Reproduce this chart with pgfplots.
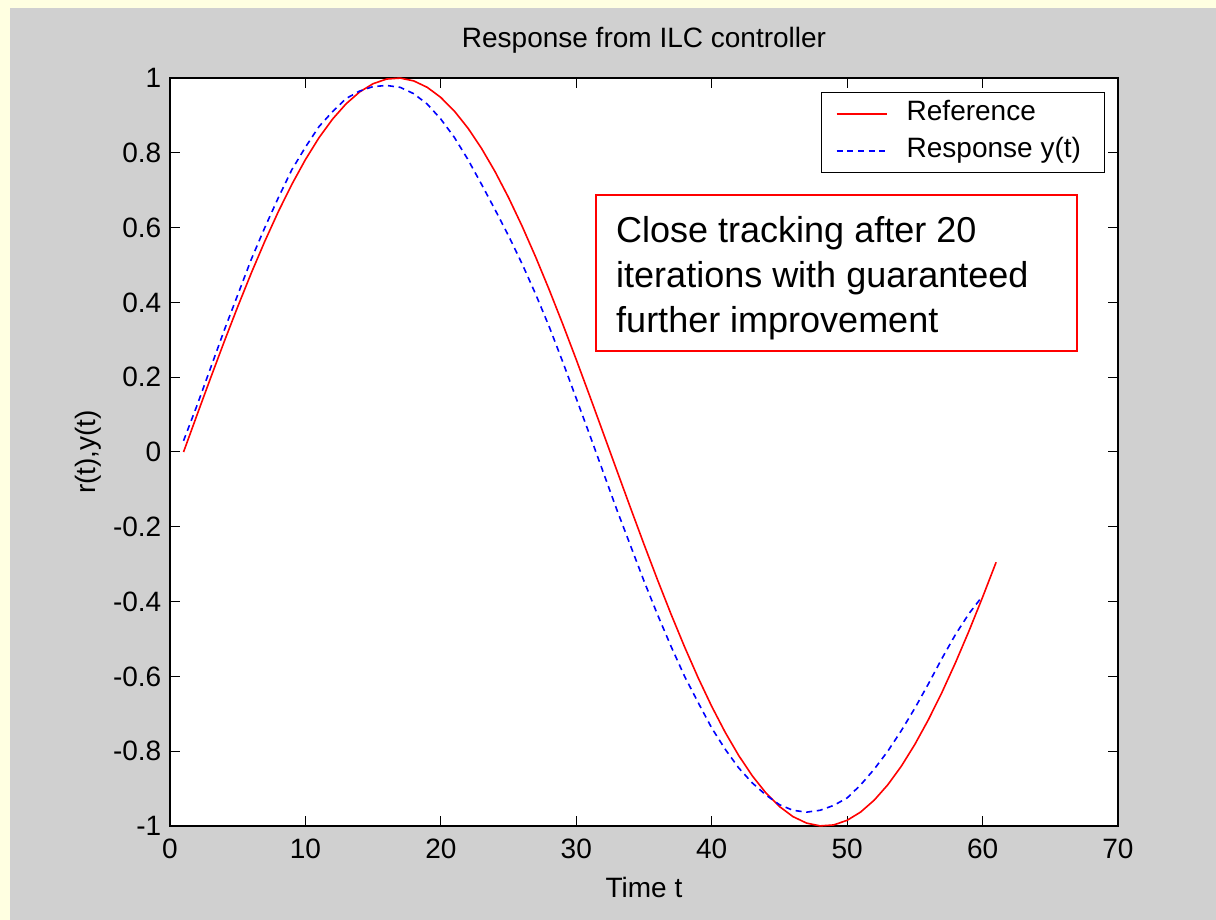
\documentclass[border=0pt]{standalone}
\usepackage{fontspec}
\setmainfont{Liberation Sans}
\usepackage{pgfplots}
\pgfplotsset{compat=1.18}
\definecolor{figgray}{RGB}{208,208,208}
\definecolor{pageyellow}{RGB}{255,255,225}

% reference signal r(t), t = 1..61
\pgfplotstableread{
t r
1 0.0000
2 0.0996
3 0.1981
4 0.2948
5 0.3884
6 0.4783
7 0.5633
8 0.6428
9 0.7158
10 0.7818
11 0.8402
12 0.8899
13 0.9309
14 0.9626
15 0.9848
16 0.9972
17 0.9997
18 0.9922
19 0.9749
20 0.9479
21 0.9115
22 0.8660
23 0.8119
24 0.7498
25 0.6802
26 0.6038
27 0.5214
28 0.4339
29 0.3420
30 0.2468
31 0.1490
32 0.0498
33 -0.0498
34 -0.1490
35 -0.2468
36 -0.3420
37 -0.4339
38 -0.5214
39 -0.6038
40 -0.6802
41 -0.7498
42 -0.8119
43 -0.8660
44 -0.9115
45 -0.9479
46 -0.9749
47 -0.9922
48 -0.9997
49 -0.9972
50 -0.9848
51 -0.9626
52 -0.9309
53 -0.8899
54 -0.8402
55 -0.7818
56 -0.7158
57 -0.6428
58 -0.5633
59 -0.4783
60 -0.3884
61 -0.2948
}\refdata

% plant output y(t) after 20 ILC iterations, t = 1..60
\pgfplotstableread{
t y
1 0.030
2 0.125
3 0.225
4 0.325
5 0.420
6 0.515
7 0.600
8 0.680
9 0.755
10 0.815
11 0.870
12 0.910
13 0.945
14 0.965
15 0.977
16 0.980
17 0.975
18 0.958
19 0.930
20 0.890
21 0.841
22 0.782
23 0.716
24 0.648
25 0.578
26 0.503
27 0.422
28 0.335
29 0.241
30 0.143
31 0.045
32 -0.055
33 -0.155
34 -0.250
35 -0.345
36 -0.435
37 -0.520
38 -0.600
39 -0.670
40 -0.738
41 -0.795
42 -0.845
43 -0.885
44 -0.917
45 -0.943
46 -0.958
47 -0.963
48 -0.958
49 -0.945
50 -0.925
51 -0.890
52 -0.848
53 -0.800
54 -0.745
55 -0.685
56 -0.620
57 -0.552
58 -0.488
59 -0.432
60 -0.385
}\respdata

\begin{document}
\begin{tikzpicture}
% page and figure backgrounds
\fill[pageyellow] (-127.5pt,-70.5pt) rectangle (784.5pt,619.5pt);
\fill[figgray] (-120pt,-70.5pt) rectangle (784.5pt,613.5pt);
\begin{axis}[
  width=711pt, height=561pt, scale only axis,
  at={(0pt,0pt)}, anchor=south west,
  xmin=0, xmax=70, ymin=-1, ymax=1,
  axis background/.style={fill=white},
  axis line style={black, line width=0.9pt},
  xtick={0,10,20,30,40,50,60,70},
  xticklabels={0,10,20,30,40,50,60,70},
  ytick={-1,-0.8,-0.6,-0.4,-0.2,0,0.2,0.4,0.6,0.8,1},
  yticklabels={-1,-0.8,-0.6,-0.4,-0.2,0,0.2,0.4,0.6,0.8,1},
  tick align=inside, major tick length=7.5pt,
  every tick/.style={black, line width=0.75pt},
  tick label style={font=\fontsize{21}{25}\selectfont, text=black},
  xticklabel style={yshift=-6.5pt},
  yticklabel style={xshift=-3pt},
  title={Response from ILC controller},
  title style={font=\fontsize{21}{25}\selectfont, at={(axis description cs:0.5,1)}, anchor=base, yshift=16.5pt},
  xlabel={Time t},
  xlabel style={font=\fontsize{21}{25}\selectfont, at={(axis description cs:0.5,0)}, anchor=base, yshift=-53.25pt},
  ylabel={r(t),y(t)},
  ylabel style={font=\fontsize{21}{25}\selectfont, at={(axis description cs:-0.0860,0.5)}, anchor=center, rotate=0},
  legend image code/.code={\draw[#1] (0pt,0pt) -- (38pt,0pt);},
  legend style={at={(axis description cs:0.687,0.9813)}, anchor=north west,
    draw=black, line width=0.75pt, fill=white,
    font=\fontsize{21}{25}\selectfont,
    inner xsep=10.5pt, inner ysep=6pt,
    nodes={inner sep=0pt, text height=15pt, text depth=5pt},
    row sep=7.75pt, column sep=14pt},
  legend cell align=left,
]
\addplot[draw=red, line width=1.2pt] table[x=t, y=r] {\refdata};
\addplot[draw=blue, line width=1.2pt, dash pattern=on 4.5pt off 3.5pt] table[x=t, y=y] {\respdata};
\legend{Reference, Response y(t)\rule{6.75pt}{0pt}}
% annotation box
\draw[red, line width=0.9pt, fill=white] (axis cs:31.455,0.6872) rectangle (axis cs:66.97,0.2701);
\node[anchor=north west, inner sep=0pt, align=left, font=\fontsize{27}{33.75}\selectfont]
  at (axis cs:32.93,0.6318) {Close tracking after 20\\iterations with guaranteed\\further improvement};
\end{axis}
\pgfresetboundingbox
\path[use as bounding box] (-127.5pt,-70.5pt) rectangle (784.5pt,619.5pt);
\end{tikzpicture}
\end{document}
